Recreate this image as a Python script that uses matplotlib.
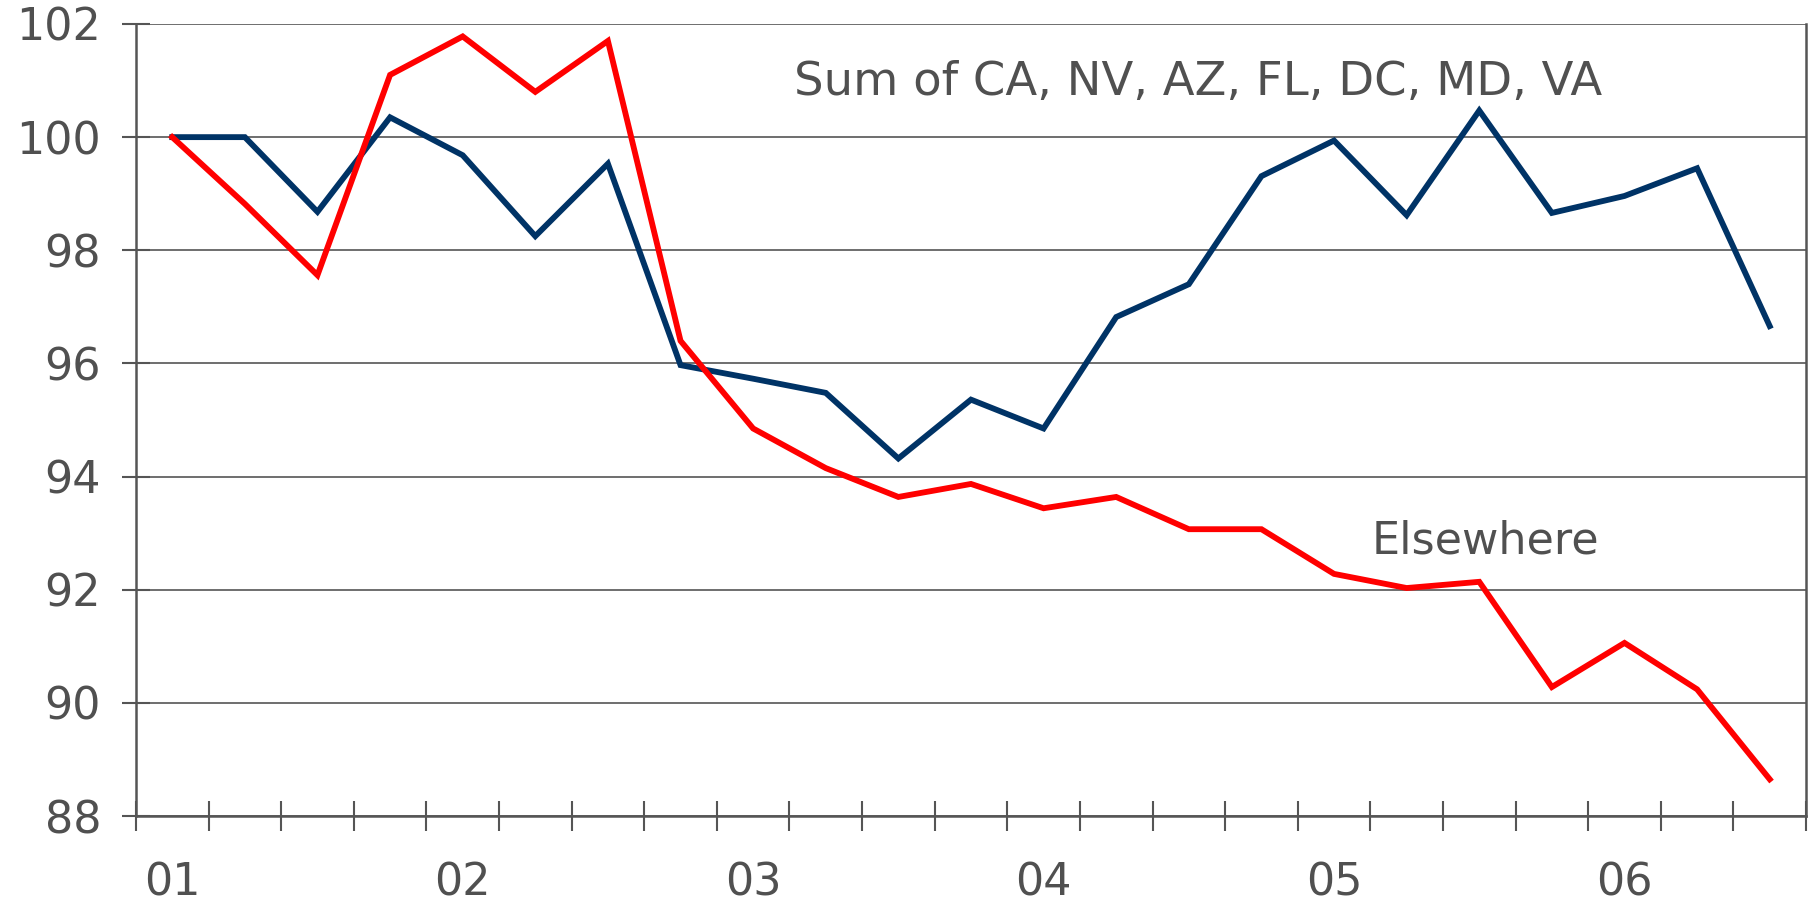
import matplotlib.pyplot as plt
import numpy as np

# quarterly index, 2001Q1 .. 2006Q3
quarters = np.arange(23)
year_labels = ["01", "02", "03", "04", "05", "06"]

sum_states = [100.0, 100.0, 98.68, 100.35, 99.68, 98.25, 99.53, 95.97, 95.73, 95.48,
              94.32, 95.36, 94.85, 96.82, 97.4, 99.31, 99.94, 98.62, 100.47, 98.66,
              98.96, 99.45, 96.66]
elsewhere = [100.0, 98.82, 97.56, 101.1, 101.78, 100.8, 101.7, 96.4, 94.85, 94.15,
             93.64, 93.87, 93.44, 93.64, 93.07, 93.07, 92.28, 92.03, 92.14, 90.28,
             91.06, 90.24, 88.65]

grey = "#555555"
text_grey = "#505050"

fig = plt.figure(figsize=(18.1, 9.05), dpi=100)
ax = fig.add_axes([0.0751, 0.0983, 0.9227, 0.8752])

ax.plot(quarters, sum_states, color="#003366", lw=4.2, solid_joinstyle="miter", zorder=3)
ax.plot(quarters, elsewhere, color="#ff0000", lw=4.2, solid_joinstyle="miter", zorder=3)

ax.set_xlim(-0.5, 22.5)
ax.set_ylim(88, 102)
ax.set_yticks(np.arange(88, 103, 2))
ax.yaxis.grid(True, color=grey, lw=1.2)
ax.set_axisbelow(True)

# category boundaries as major ticks, year labels as minor ticks
ax.set_xticks(np.arange(-0.5, 23, 1))
ax.set_xticklabels([])
ax.set_xticks(np.arange(0, 23, 4), minor=True)
ax.set_xticklabels(year_labels, minor=True)
ax.tick_params(axis="x", which="major", direction="inout", length=21, width=1.5, color=grey)
ax.tick_params(axis="x", which="minor", length=0, pad=33, labelsize=32, labelcolor=text_grey)
ax.tick_params(axis="y", direction="inout", length=20, width=1.5, color=grey,
               labelsize=32, labelcolor=text_grey, pad=15)

for side in ["left", "right", "bottom"]:
    ax.spines[side].set_color(grey)
    ax.spines[side].set_linewidth(1.8)
ax.spines["top"].set_visible(False)

ax.text(14.13, 100.96, "Sum of CA, NV, AZ, FL, DC, MD, VA", ha="center", va="center",
        fontsize=33.5, color=text_grey)
ax.text(18.08, 92.86, "Elsewhere", ha="center", va="center", fontsize=32, color=text_grey)

fig.savefig("out.png", dpi=100)
